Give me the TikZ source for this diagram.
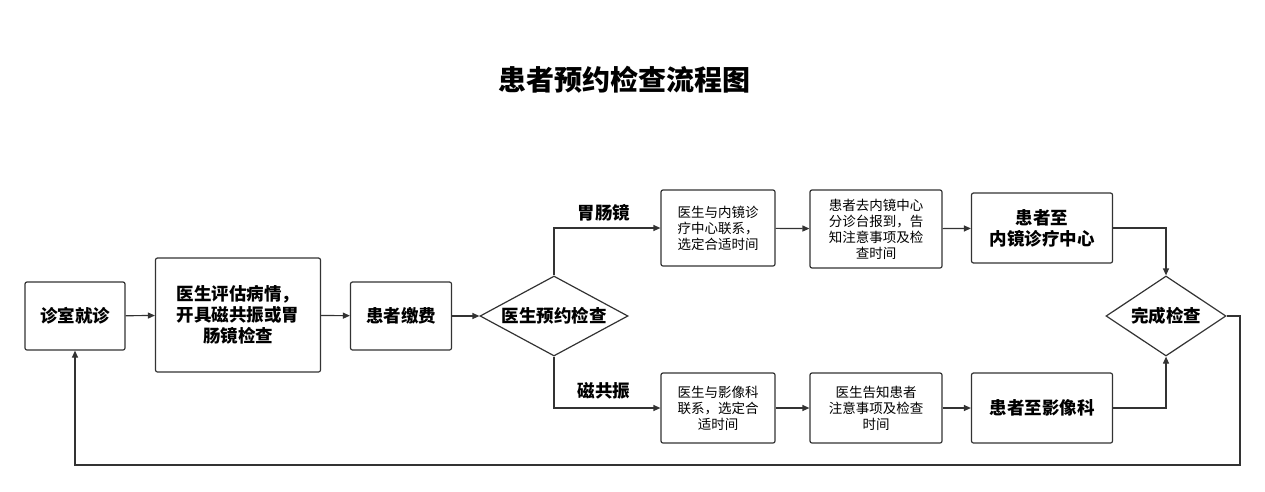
\documentclass[tikz,border=0pt]{standalone}
\usepackage{fontspec}
\setmainfont{Noto Sans CJK SC}
\usetikzlibrary{shapes.geometric,arrows.meta}
\begin{document}
\begin{tikzpicture}[x=1pt,y=-1pt,
 box/.style={draw=black!80,line width=1.2pt,rounded corners=2pt,align=center,inner sep=0pt},
 big/.style={font=\fontsize{17.5}{21}\selectfont\bfseries},
 small/.style={font=\fontsize{13.5}{16}\selectfont},
 dia/.style={draw=black!80,line width=1.2pt,diamond,aspect=1.85,inner sep=0pt,align=center},
 arr/.style={draw=black!80,line width=1.2pt,-{Triangle[length=7pt,width=6pt]}}]
\useasboundingbox (0,0) rectangle (1265,491);
\node[font=\fontsize{28}{31}\selectfont\bfseries] (t) at (624,80) {患者预约检查流程图};
\node[box,big,minimum width=100,minimum height=68] (a) at (75,316) {诊室就诊};
\node[box,big,minimum width=165,minimum height=114] (b) at (238,315) {医生评估病情，\\开具磁共振或胃\\肠镜检查};
\node[box,big,minimum width=101,minimum height=68] (c) at (401,316) {患者缴费};
\node[dia,big,minimum width=148,minimum height=80] (d) at (554,316) {医生预约检查};
\node[box,small,minimum width=114,minimum height=76] (u1) at (718,228) {医生与内镜诊\\疗中心联系，\\选定合适时间};
\node[box,small,minimum width=132,minimum height=78] (u2) at (876,229) {患者去内镜中心\\分诊台报到，告\\知注意事项及检\\查时间};
\node[box,big,minimum width=141,minimum height=70] (u3) at (1042,228) {患者至\\内镜诊疗中心};
\node[box,small,minimum width=114,minimum height=70] (l1) at (718,408) {医生与影像科\\联系，选定合\\适时间};
\node[box,small,minimum width=132,minimum height=70] (l2) at (876,408) {医生告知患者\\注意事项及检查\\时间};
\node[box,big,minimum width=141,minimum height=70] (l3) at (1042,408) {患者至影像科};
\node[dia,big,minimum width=120,minimum height=80] (e) at (1166,316) {完成检查};
\node[big] (g1) at (604,213) {胃肠镜};
\node[big] (g2) at (604,391) {磁共振};
\draw[arr] (a) -- (b);
\draw[arr] (b) -- (c);
\draw[arr] (c) -- (d);
\draw[arr] (d.north) |- (u1.west);
\draw[arr] (d.south) |- (l1.west);
\draw[arr] (u1) -- (u2);
\draw[arr] (u2) -- (u3);
\draw[arr] (l1) -- (l2);
\draw[arr] (l2) -- (l3);
\draw[arr] (u3.east) -| (e.north);
\draw[arr] (l3.east) -| (e.south);
\coordinate (r1) at (1240,316);
\coordinate (r2) at (1240,465);
\draw[arr] (e.east) -- (r1) -- (r2) -| (a.south);
\end{tikzpicture}
\end{document}
